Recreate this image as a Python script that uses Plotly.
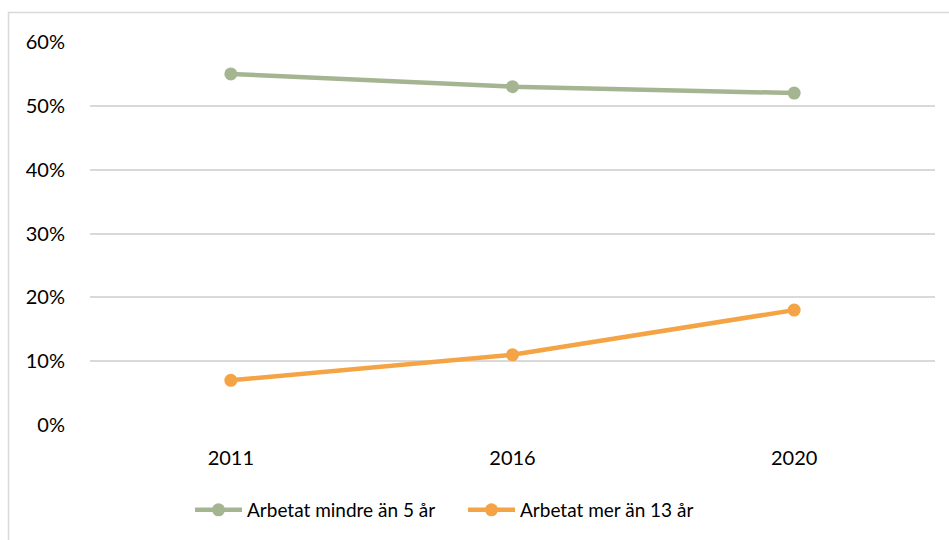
import plotly.graph_objects as go

years = ["2011", "2016", "2020"]
mindre_5 = [0.55, 0.53, 0.52]
mer_13 = [0.07, 0.11, 0.18]
names = ["Arbetat mindre än 5 år", "Arbetat mer än 13 år"]
colors = ["#a5b592", "#f4a444"]

fig = go.Figure()
for vals, name, col in zip([mindre_5, mer_13], names, colors):
    fig.add_trace(go.Scatter(
        x=years, y=vals, name=name, mode="lines+markers",
        line=dict(color=col, width=4.5),
        marker=dict(color=col, size=13),
    ))

L, R, T, B = 90, 14, 42, 114
W, H = 949, 540
pw, ph = W - L - R, H - T - B

def px(x):
    return (x - L) / pw

def py(y):
    return (H - B - y) / ph

fig.add_shape(type="rect", xref="paper", yref="paper",
              x0=px(8.5), x1=px(970), y0=py(12.5), y1=py(560),
              line=dict(color="#d9d9d9", width=1.5), fillcolor="rgba(0,0,0,0)", layer="below")

fig.update_layout(
    width=W, height=H,
    margin=dict(l=L, r=R, t=T, b=B),
    paper_bgcolor="white", plot_bgcolor="white",
    font=dict(family="Lato, Open Sans, sans-serif", size=20, color="#000000"),
    showlegend=True,
    legend=dict(orientation="h", x=px(190), xanchor="left", y=py(510), yanchor="middle",
                font=dict(size=19), itemwidth=47, tracegroupgap=0,
                entrywidth=211, entrywidthmode="pixels"),
    xaxis=dict(type="category", range=[-0.5, 2.5], showgrid=False, showline=False,
               zeroline=False, ticks="", ticklabelstandoff=19),
    yaxis=dict(range=[0, 0.6], tickvals=[0, 0.1, 0.2, 0.3, 0.4, 0.5, 0.6],
               tickformat=".0%", showgrid=True, gridcolor="#d9d9d9", gridwidth=1.5,
               zeroline=False, showline=False, ticks="", ticklabelstandoff=24),
)

fig.write_html("out.html", config={"displayModeBar": False},
               post_script="document.body.style.margin='0';")
